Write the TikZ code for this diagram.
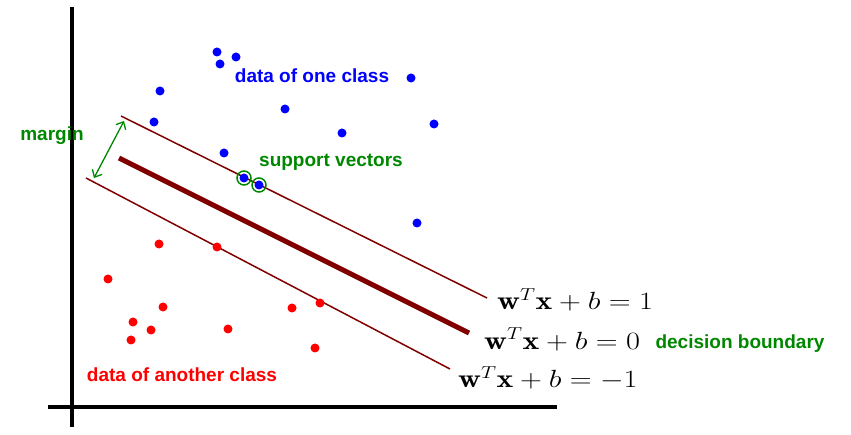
\documentclass[tikz,border=0pt]{standalone}
\usepackage{fontspec}
\setsansfont{Liberation Sans}
\usetikzlibrary{arrows.meta}
\definecolor{mblue}{RGB}{0,0,255}
\definecolor{mred}{RGB}{255,0,0}
\definecolor{mgreen}{RGB}{0,135,0}
\definecolor{maroonline}{RGB}{128,0,0}
\newcommand{\stretcheq}[1]{\scalebox{1.22}[1]{#1}}
\tikzset{
  bdot/.style={circle,fill=mblue,inner sep=0pt,minimum size=9pt},
  rdot/.style={circle,fill=mred,inner sep=0pt,minimum size=9pt},
  lbl/.style={font=\sffamily\bfseries\fontsize{19}{22}\selectfont,inner sep=0pt},
  eqn/.style={font=\fontsize{26}{30}\selectfont,inner sep=0pt,anchor=base west},
  axis/.style={line width=4pt,black},
  thinline/.style={line width=1.5pt,maroonline},
  thickline/.style={line width=5pt,maroonline},
  svring/.style={circle,draw=mgreen,line width=1.5pt,inner sep=0pt,minimum size=14pt}
}
\begin{document}
\begin{tikzpicture}[x=1pt,y=-1pt]
\useasboundingbox (0,0) rectangle (851,435);
% axes
\coordinate (ytop) at (72,7);
\coordinate (ybot) at (72,427);
\coordinate (xl) at (48,407);
\coordinate (xr) at (557,407);
\draw[axis] (ytop) -- (ybot);
\draw[axis] (xl) -- (xr);
% lines
\coordinate (u1) at (121,116);
\coordinate (u2) at (487,298);
\coordinate (c1) at (119,158);
\coordinate (c2) at (469,333);
\coordinate (l1) at (86,178);
\coordinate (l2) at (450,369);
\draw[thinline] (u1) -- (u2);
\draw[thickline] (c1) -- (c2);
\draw[thinline] (l1) -- (l2);
% margin arrow
\coordinate (m1) at (124,121);
\coordinate (m2) at (94,178);
\draw[mgreen,line width=1.3pt,{Straight Barb[length=6pt,width=11pt]}-{Straight Barb[length=6pt,width=11pt]}] (m1) -- (m2);
% blue points
\foreach \p [count=\i] in {(217,52),(220,64),(236,57),(160,91),(154,122),(224,153),(285,109),(342,133),(411,78),(434,124),(417,223)}
  \node[bdot] (b\i) at \p {};
\node[bdot] (sv1) at (244,178) {};
\node[bdot] (sv2) at (259,185) {};
\node[svring] (r1) at (sv1) {};
\node[svring] (r2) at (sv2) {};
% red points
\foreach \p [count=\i] in {(159,244),(217,247),(108,279),(163,307),(133,322),(151,330),(131,340),(228,329),(292,308),(320,303),(315,348)}
  \node[rdot] (rd\i) at \p {};
% labels
\node[lbl,text=mgreen] (margin) at (52,136) {margin};
\node[lbl,text=mblue] (oneclass) at (312,76) {data of one class};
\node[lbl,text=mgreen] (sv) at (331,162) {support vectors};
\node[lbl,text=mgreen] (db) at (740,344) {decision boundary};
\node[lbl,text=mred] (another) at (182,375) {data of another class};
% equations
\node[eqn] (e1) at (497,310) {\stretcheq{$\mathbf{w}^T\mathbf{x}+b=1$}};
\node[eqn] (e0) at (484,349) {\stretcheq{$\mathbf{w}^T\mathbf{x}+b=0$}};
\node[eqn] (em1) at (458,388) {\stretcheq{$\mathbf{w}^T\mathbf{x}+b=-1$}};
\end{tikzpicture}
\end{document}
